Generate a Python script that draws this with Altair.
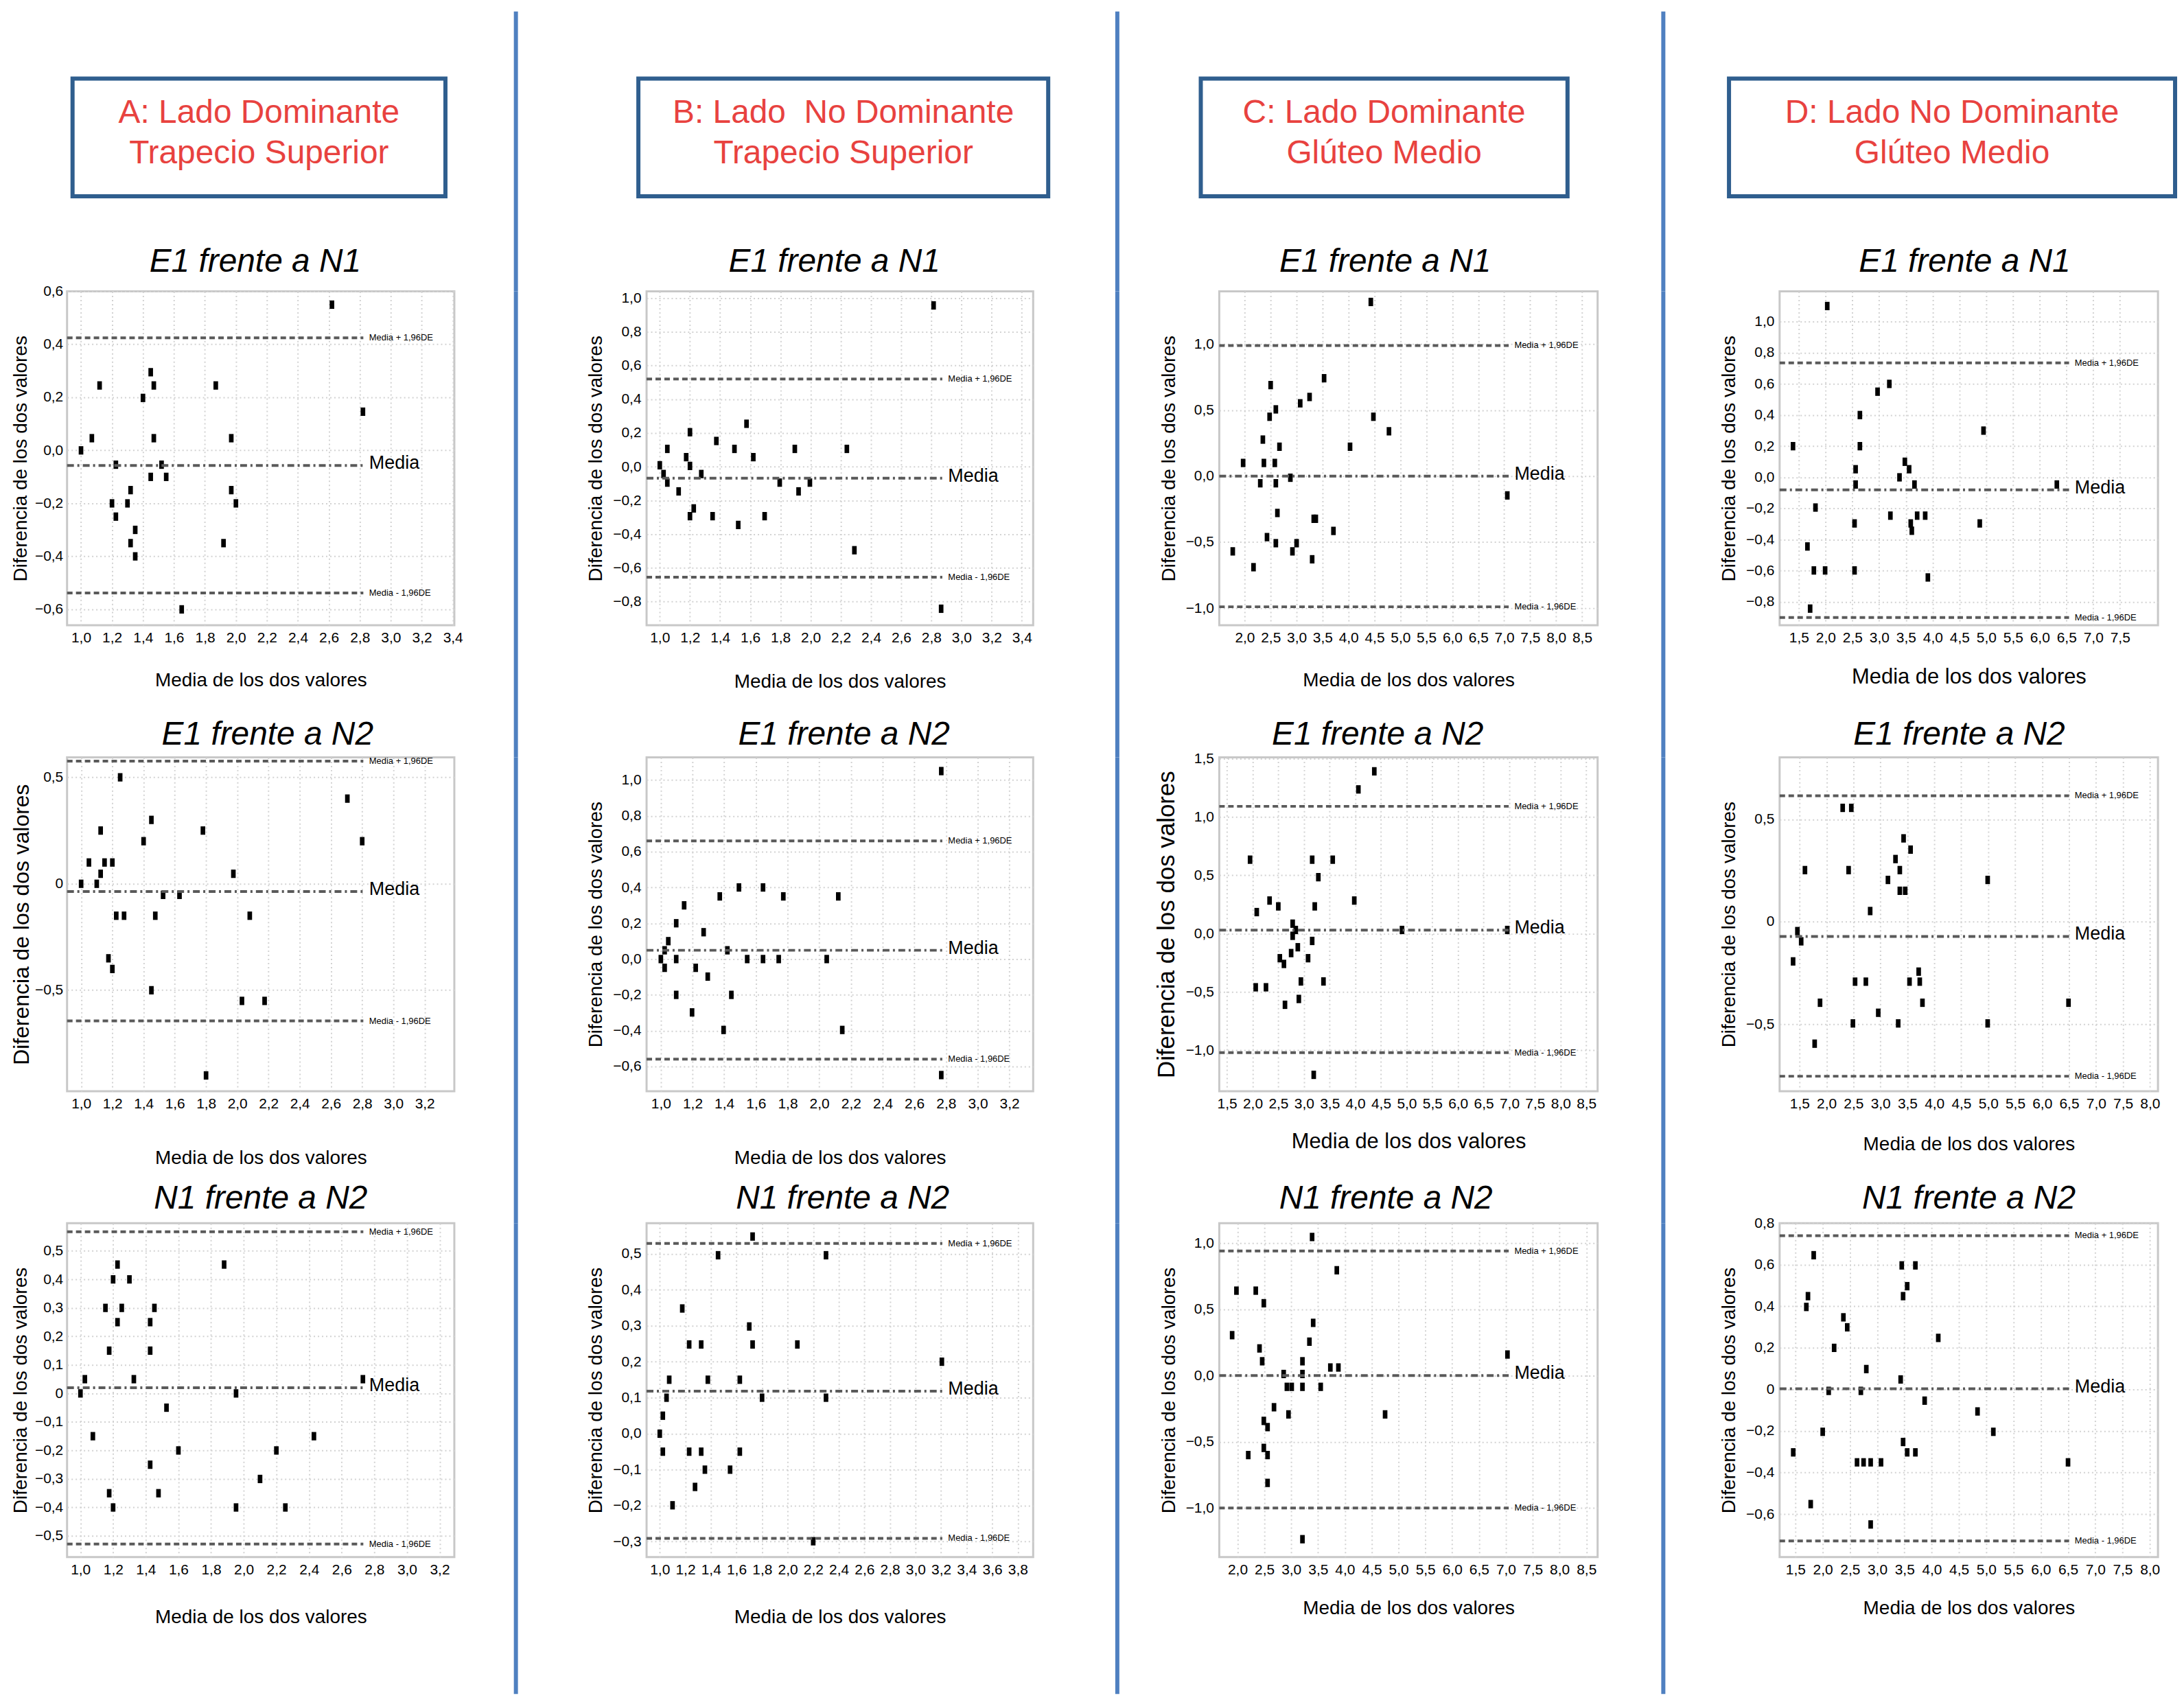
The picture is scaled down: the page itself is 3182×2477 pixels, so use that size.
import altair as alt
import pandas as pd

FONT = "Liberation Sans"
RED = "#E8423F"
BOX = "#2F5E8E"
SEP = "#4F80C0"

header_line1 = ["A: Lado Dominante", "B: Lado\u00a0 No Dominante", "C: Lado Dominante", "D: Lado No Dominante"]
header_line2 = ["Trapecio Superior", "Trapecio Superior", "Glúteo Medio", "Glúteo Medio"]
row_titles = ["E1 frente a N1", "E1 frente a N2", "N1 frente a N2"]

# ---------------- data ----------------
a1_x = [2.62, 1.12, 1.45, 1.47, 1.87, 1.40, 2.82, 1.07, 1.47, 1.97, 1.00, 1.225, 1.52, 1.45, 1.55, 1.32, 1.97, 1.20, 1.30, 2.00, 1.225, 1.35, 1.32, 1.92, 1.35, 1.65]
a1_y = [0.55, 0.245, 0.295, 0.245, 0.245, 0.198, 0.146, 0.046, 0.046, 0.046, 0.0, -0.054, -0.054, -0.10, -0.10, -0.15, -0.15, -0.20, -0.20, -0.20, -0.25, -0.30, -0.35, -0.35, -0.40, -0.60]
a2_x = [1.25, 2.705, 1.45, 1.125, 1.78, 1.40, 2.80, 1.05, 1.15, 1.20, 1.125, 1.975, 1.00, 1.10, 1.525, 1.63, 1.225, 1.275, 1.475, 2.08, 1.175, 1.20, 1.45, 2.03, 2.175, 1.80]
a2_y = [0.50, 0.40, 0.30, 0.25, 0.25, 0.20, 0.20, 0.10, 0.10, 0.10, 0.047, 0.047, 0.0, 0.0, -0.052, -0.052, -0.15, -0.15, -0.15, -0.15, -0.35, -0.40, -0.50, -0.55, -0.55, -0.90]
a3_x = [1.227, 1.88, 1.20, 1.30, 1.153, 1.253, 1.453, 1.227, 1.427, 1.176, 1.427, 1.027, 1.327, 2.73, 1.00, 1.953, 1.527, 1.076, 2.43, 1.60, 2.20, 1.427, 2.10, 1.176, 1.478, 1.20, 1.953, 2.255]
a3_y = [0.452, 0.452, 0.40, 0.40, 0.30, 0.30, 0.30, 0.25, 0.25, 0.15, 0.15, 0.05, 0.05, 0.05, 0.0, 0.0, -0.05, -0.15, -0.15, -0.20, -0.20, -0.25, -0.30, -0.35, -0.35, -0.40, -0.40, -0.40]
b1_x = [2.815, 1.575, 1.20, 1.375, 1.05, 1.495, 1.895, 2.24, 1.175, 1.62, 1.00, 1.20, 1.025, 1.275, 1.05, 1.795, 1.995, 1.125, 1.92, 1.225, 1.20, 1.35, 1.695, 1.52, 2.29, 2.865]
b1_y = [0.957, 0.255, 0.205, 0.153, 0.106, 0.106, 0.106, 0.106, 0.057, 0.057, 0.009, 0.005, -0.043, -0.043, -0.094, -0.094, -0.094, -0.146, -0.146, -0.247, -0.293, -0.293, -0.293, -0.345, -0.495, -0.842]
b2_x = [2.77, 1.493, 1.645, 1.372, 1.773, 2.12, 1.147, 1.097, 1.27, 1.047, 1.024, 1.42, 1.00, 1.097, 1.545, 1.645, 1.744, 2.047, 1.024, 1.22, 1.296, 1.097, 1.445, 1.197, 1.396, 2.145, 2.77]
b2_y = [1.05, 0.40, 0.40, 0.35, 0.35, 0.35, 0.30, 0.20, 0.15, 0.10, 0.049, 0.049, 0.0, 0.0, 0.0, 0.0, 0.0, 0.0, -0.049, -0.049, -0.098, -0.20, -0.20, -0.298, -0.396, -0.396, -0.648]
b3_x = [1.726, 1.456, 2.30, 1.176, 1.70, 1.23, 1.324, 1.726, 2.076, 3.206, 1.074, 1.376, 1.626, 1.053, 1.80, 2.30, 1.024, 1.00, 1.024, 1.23, 1.324, 1.626, 1.353, 1.55, 1.276, 1.10, 2.20]
b3_y = [0.548, 0.496, 0.496, 0.348, 0.298, 0.248, 0.248, 0.248, 0.248, 0.20, 0.15, 0.15, 0.15, 0.10, 0.10, 0.10, 0.05, 0.0, -0.05, -0.05, -0.05, -0.05, -0.10, -0.10, -0.148, -0.199, -0.299]
c1_x = [4.43, 3.53, 2.50, 3.25, 3.07, 2.60, 2.48, 4.48, 4.78, 2.35, 2.67, 4.03, 1.97, 2.37, 2.58, 2.88, 2.30, 2.60, 7.06, 2.63, 3.33, 3.37, 3.71, 2.43, 2.60, 3.00, 1.77, 2.92, 3.30, 2.17]
c1_y = [1.32, 0.742, 0.69, 0.60, 0.552, 0.506, 0.45, 0.45, 0.34, 0.277, 0.223, 0.223, 0.10, 0.10, 0.10, -0.012, -0.054, -0.054, -0.146, -0.279, -0.323, -0.323, -0.415, -0.462, -0.508, -0.508, -0.57, -0.57, -0.63, -0.69]
c2_x = [4.37, 4.06, 1.95, 3.16, 3.56, 3.28, 3.98, 2.33, 2.50, 3.21, 2.08, 2.78, 2.84, 4.91, 6.96, 2.78, 3.16, 2.88, 2.75, 3.08, 2.53, 2.61, 2.94, 3.38, 2.06, 2.26, 2.90, 2.63, 3.19]
c2_y = [1.39, 1.235, 0.633, 0.633, 0.633, 0.483, 0.283, 0.283, 0.233, 0.233, 0.184, 0.085, 0.031, 0.031, 0.031, -0.019, -0.063, -0.117, -0.167, -0.211, -0.211, -0.26, -0.41, -0.41, -0.46, -0.46, -0.56, -0.61, -1.21]
c3_x = [3.39, 3.85, 1.98, 2.34, 2.49, 3.41, 1.90, 3.34, 2.41, 7.03, 2.46, 3.21, 3.73, 3.88, 2.86, 3.21, 2.92, 3.01, 3.21, 3.55, 2.68, 2.95, 4.75, 2.49, 2.56, 2.20, 2.49, 2.56, 2.56, 3.21]
c3_y = [1.046, 0.795, 0.641, 0.641, 0.546, 0.398, 0.305, 0.256, 0.205, 0.159, 0.108, 0.108, 0.061, 0.061, 0.012, 0.012, -0.085, -0.085, -0.085, -0.085, -0.239, -0.293, -0.293, -0.342, -0.389, -0.60, -0.546, -0.60, -0.81, -1.235]
d1_x = [2.03, 3.19, 2.97, 2.64, 4.95, 1.39, 2.64, 3.48, 3.56, 2.56, 3.38, 2.56, 3.66, 6.32, 1.81, 3.21, 3.71, 3.86, 2.54, 3.59, 4.88, 3.61, 1.66, 1.78, 1.99, 2.54, 3.91, 1.71]
d1_y = [1.10, 0.60, 0.55, 0.40, 0.30, 0.20, 0.20, 0.10, 0.052, 0.052, 0.0, -0.046, -0.046, -0.046, -0.194, -0.246, -0.246, -0.246, -0.296, -0.296, -0.296, -0.343, -0.444, -0.598, -0.598, -0.598, -0.643, -0.843]
d2_x = [2.30, 2.46, 3.43, 3.56, 3.28, 1.60, 2.41, 3.36, 3.14, 4.99, 3.36, 3.46, 2.81, 1.46, 1.53, 1.38, 3.71, 2.53, 2.73, 3.54, 3.73, 1.88, 3.78, 6.49, 2.96, 2.49, 3.33, 4.99, 1.78]
d2_y = [0.556, 0.556, 0.407, 0.352, 0.306, 0.252, 0.252, 0.252, 0.204, 0.204, 0.151, 0.151, 0.052, -0.046, -0.096, -0.194, -0.244, -0.293, -0.293, -0.293, -0.293, -0.396, -0.396, -0.396, -0.445, -0.497, -0.497, -0.497, -0.596]
d3_x = [1.835, 3.45, 3.70, 3.55, 1.73, 3.475, 1.70, 2.38, 2.45, 4.12, 2.21, 2.80, 3.43, 2.11, 2.70, 3.87, 4.84, 5.13, 2.00, 3.475, 1.46, 3.55, 3.70, 2.63, 2.75, 2.88, 3.07, 6.50, 1.78, 2.88]
d3_y = [0.646, 0.597, 0.597, 0.497, 0.449, 0.449, 0.397, 0.347, 0.299, 0.248, 0.20, 0.098, 0.048, -0.007, -0.007, -0.054, -0.106, -0.204, -0.204, -0.253, -0.303, -0.303, -0.303, -0.351, -0.351, -0.351, -0.351, -0.351, -0.552, -0.65]

# limits of agreement (A1..A3, B1..B3, C1..C3, D1..D3)
loa_upper = [0.425, 0.576, 0.567, 0.52, 0.66, 0.529, 0.99, 1.09, 0.94, 0.735, 0.615, 0.74]
loa_mean = [-0.057, -0.036, 0.02, -0.068, 0.049, 0.118, 0.0, 0.03, 0.0, -0.08, -0.072, 0.003]
loa_lower = [-0.538, -0.644, -0.528, -0.655, -0.559, -0.291, -0.99, -1.02, -1.0, -0.90, -0.755, -0.729]

x_domains = [[0.91, 3.41], [0.91, 3.39], [0.918, 3.29], [0.9125, 3.475], [0.91, 3.35], [0.897, 3.92],
             [1.51, 8.8], [1.35, 8.72], [1.66, 8.71], [1.14, 8.21], [1.13, 8.15], [1.21, 8.15]]
y_domains = [[-0.66, 0.6], [-0.974, 0.594], [-0.574, 0.597], [-0.94, 1.04], [-0.738, 1.127], [-0.343, 0.585],
             [-1.13, 1.40], [-1.35, 1.51], [-1.37, 1.15], [-0.95, 1.194], [-0.828, 0.803], [-0.807, 0.8]]

xt_a1 = [1.0, 1.2, 1.4, 1.6, 1.8, 2.0, 2.2, 2.4, 2.6, 2.8, 3.0, 3.2, 3.4]
xt_a2 = [1.0, 1.2, 1.4, 1.6, 1.8, 2.0, 2.2, 2.4, 2.6, 2.8, 3.0, 3.2]
xt_b3 = [1.0, 1.2, 1.4, 1.6, 1.8, 2.0, 2.2, 2.4, 2.6, 2.8, 3.0, 3.2, 3.4, 3.6, 3.8]
xt_c1 = [2.0, 2.5, 3.0, 3.5, 4.0, 4.5, 5.0, 5.5, 6.0, 6.5, 7.0, 7.5, 8.0, 8.5]
xt_c2 = [1.5, 2.0, 2.5, 3.0, 3.5, 4.0, 4.5, 5.0, 5.5, 6.0, 6.5, 7.0, 7.5, 8.0, 8.5]
xt_d1 = [1.5, 2.0, 2.5, 3.0, 3.5, 4.0, 4.5, 5.0, 5.5, 6.0, 6.5, 7.0, 7.5]
xt_d2 = [1.5, 2.0, 2.5, 3.0, 3.5, 4.0, 4.5, 5.0, 5.5, 6.0, 6.5, 7.0, 7.5, 8.0]
x_ticks = [xt_a1, xt_a2, xt_a2, xt_a1, xt_a2, xt_b3, xt_c1, xt_c2, xt_c1, xt_d1, xt_d2, xt_d2]

yt_a1 = [-0.6, -0.4, -0.2, 0.0, 0.2, 0.4, 0.6]
yt_half = [-0.5, 0.0, 0.5]
yt_a3 = [-0.5, -0.4, -0.3, -0.2, -0.1, 0.0, 0.1, 0.2, 0.3, 0.4, 0.5]
yt_b1 = [-0.8, -0.6, -0.4, -0.2, 0.0, 0.2, 0.4, 0.6, 0.8, 1.0]
yt_b2 = [-0.6, -0.4, -0.2, 0.0, 0.2, 0.4, 0.6, 0.8, 1.0]
yt_b3 = [-0.3, -0.2, -0.1, 0.0, 0.1, 0.2, 0.3, 0.4, 0.5]
yt_c1 = [-1.0, -0.5, 0.0, 0.5, 1.0]
yt_c2 = [-1.0, -0.5, 0.0, 0.5, 1.0, 1.5]
yt_d3 = [-0.6, -0.4, -0.2, 0.0, 0.2, 0.4, 0.6, 0.8]
y_ticks = [yt_a1, yt_half, yt_a3, yt_b1, yt_b2, yt_b3, yt_c1, yt_c2, yt_c1, yt_b1, yt_half, yt_d3]
zero_plain = [False, True, True, False, False, False, False, False, False, False, True, True]

xs_all = [a1_x, a2_x, a3_x, b1_x, b2_x, b3_x, c1_x, c2_x, c3_x, d1_x, d2_x, d3_x]
ys_all = [a1_y, a2_y, a3_y, b1_y, b2_y, b3_y, c1_y, c2_y, c3_y, d1_y, d2_y, d3_y]

# ---------------- layout (not data) ----------------
COL_W = [566, 565, 553, 553]
PANEL_H = 488
HEADER_H = 216
ROW_GAP = 193
SEP_W = [281, 272, 266]
SEP_X = [90, 123, 96]
BOX_X = [(8, 553), (-12, 587), (-27, 509), (-74, 578)]
TITLE_DX = [-8, 10, 0, -8, 6, 4, -34, -45, -33, -6, -14, 0]
TITLE_Y = [-43, -32, -35]
Y_TITLE_FS = [28, 32, 28, 28, 28, 28, 28, 35, 28, 28, 28, 28]
Y_TITLE_PAD = [6, 2, 6, 10, 10, 10, 10, 10, 10, 10, 10, 10]
Y_LABEL_PAD = [6, 6, 6, 8, 8, 8, 8, 8, 8, 8, 8, 8]
X_TITLE_FS = [28, 28, 28, 28, 28, 28, 28, 31, 28, 31, 28, 28]
X_TITLE_PAD = [38, 55, 45, 40, 55, 45, 38, 30, 32, 32, 35, 32]
LINE_FRAC = 0.765
LABEL_FRAC = 0.78

SHAPE = "M-0.55,-1L0.55,-1L0.55,1L-0.55,1Z"
ONE = alt.Data(values=[{"k": 1}])


def label_expr(plain_zero):
    base = "replace(format(datum.value, '.1f'), '.', ',')"
    if plain_zero:
        return "abs(datum.value) < 1e-9 ? '0' : " + base
    return base


def panel(i, col, row):
    w = COL_W[col]
    pts = pd.DataFrame({"x": xs_all[i], "y": ys_all[i]})
    xsc = alt.Scale(domain=x_domains[i], zero=False, nice=False)
    ysc = alt.Scale(domain=y_domains[i], zero=False, nice=False)
    xenc = alt.X("x:Q", scale=xsc, axis=alt.Axis(values=x_ticks[i], labelExpr=label_expr(False),
                                                 title="Media de los dos valores",
                                                 titleFontSize=X_TITLE_FS[i], titlePadding=X_TITLE_PAD[i]))
    yax = alt.Axis(values=y_ticks[i], labelExpr=label_expr(zero_plain[i]),
                   title="Diferencia de los dos valores", titleFontSize=Y_TITLE_FS[i],
                   titlePadding=Y_TITLE_PAD[i], labelPadding=Y_LABEL_PAD[i])
    yenc = alt.Y("y:Q", scale=ysc, axis=yax)

    points = alt.Chart(pts).mark_point(shape=SHAPE, filled=True, size=150, color="black",
                                       opacity=1, strokeWidth=0).encode(x=xenc, y=yenc)

    lim = pd.DataFrame({"y": [loa_upper[i], loa_lower[i]],
                        "label": ["Media + 1,96DE", "Media - 1,96DE"]})
    mean = pd.DataFrame({"y": [loa_mean[i]], "label": ["Media"]})

    lim_rule = alt.Chart(lim).mark_rule(strokeDash=[8, 5], strokeWidth=4, color="#5a5a5a").encode(
        x=alt.value(0), x2=alt.value(LINE_FRAC * w), y=yenc)
    mean_rule = alt.Chart(mean).mark_rule(strokeDash=[10, 5, 3, 5], strokeWidth=4, color="#5a5a5a").encode(
        x=alt.value(0), x2=alt.value(LINE_FRAC * w), y=yenc)
    lim_text = alt.Chart(lim).mark_text(align="left", baseline="middle", font=FONT, fontSize=13,
                                        color="black").encode(x=alt.value(LABEL_FRAC * w), y=yenc, text="label:N")
    mean_text = alt.Chart(mean).mark_text(align="left", baseline="middle", font=FONT, fontSize=27,
                                          color="black", dy=-3).encode(x=alt.value(LABEL_FRAC * w), y=yenc,
                                                                      text="label:N")
    title = alt.Chart(ONE).mark_text(text=row_titles[row], font=FONT, fontSize=48, fontStyle="italic",
                                     color="black", align="center", baseline="middle").encode(
        x=alt.value(w / 2 + TITLE_DX[i]), y=alt.value(TITLE_Y[row]))
    return alt.layer(points, lim_rule, mean_rule, lim_text, mean_text, title).properties(
        width=w, height=PANEL_H)


def header(col):
    x0, x1 = BOX_X[col]
    cx = (x0 + x1) / 2
    box = alt.Chart(ONE).mark_rect(fill="white", stroke=BOX, strokeWidth=6).encode(
        x=alt.value(x0), x2=alt.value(x1), y=alt.value(98), y2=alt.value(270))
    t1 = alt.Chart(ONE).mark_text(text=header_line1[col], font=FONT, fontSize=48, color=RED,
                                  align="center", baseline="middle").encode(x=alt.value(cx), y=alt.value(149))
    t2 = alt.Chart(ONE).mark_text(text=header_line2[col], font=FONT, fontSize=48, color=RED,
                                  align="center", baseline="middle").encode(x=alt.value(cx), y=alt.value(208))
    return alt.layer(box, t1, t2).properties(width=COL_W[col], height=HEADER_H,
                                             view=alt.ViewBackground(stroke="transparent"))


def separator(k, h, extra):
    return alt.Chart(ONE).mark_rule(color=SEP, strokeWidth=6).encode(
        x=alt.value(SEP_X[k]), y=alt.value(0), y2=alt.value(h + extra)).properties(
        width=SEP_W[k], height=h, view=alt.ViewBackground(stroke="transparent"))


cells = []
for col in range(4):
    cells.append(header(col))
    if col < 3:
        cells.append(separator(col, HEADER_H, ROW_GAP))
for row in range(3):
    for col in range(4):
        cells.append(panel(col * 3 + row, col, row))
        if col < 3:
            cells.append(separator(col, PANEL_H, ROW_GAP if row < 2 else 200))

chart = alt.concat(*cells, columns=7, spacing=alt.RowColnumber(row=ROW_GAP, column=0),
                   bounds="flush", align="each").properties(
    padding={"left": 6, "top": 0, "right": 0, "bottom": 0}, background="white")

chart = chart.configure_view(stroke="#c8c8c8", strokeWidth=3).configure_axis(
    domain=False, ticks=False, grid=True, gridColor="#d2d2d2", gridDash=[2, 4], gridWidth=2,
    labelFont=FONT, labelFontSize=21, labelColor="black", labelPadding=8,
    titleFont=FONT, titleFontWeight="normal", titleColor="black", titlePadding=10)

chart.save("out.html", embed_options={"renderer": "svg", "actions": False})
